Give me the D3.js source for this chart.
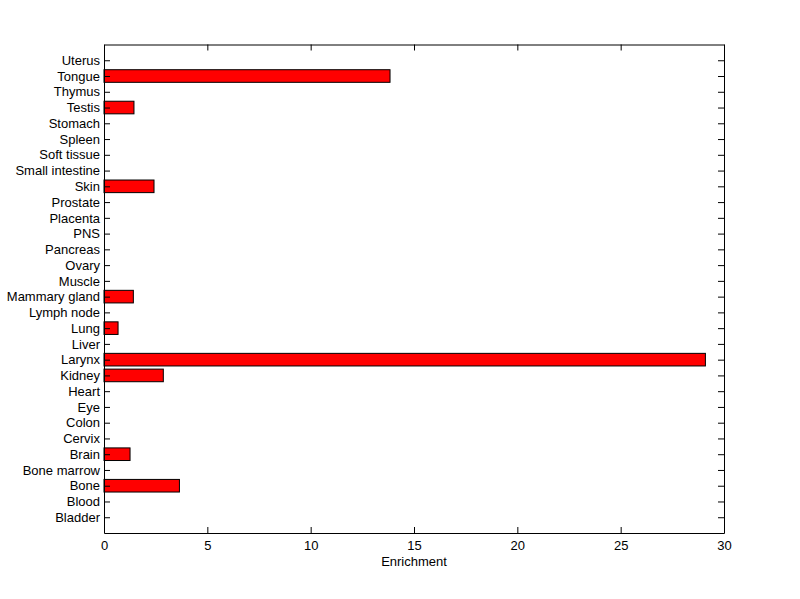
<!DOCTYPE html>
<html>
<head>
<meta charset="utf-8">
<script src="https://cdn.jsdelivr.net/npm/d3@7"></script>
<style>
  body { margin: 0; background: #fff; }
  text { font-family: "Liberation Sans", Arial, sans-serif; font-size: 13px; fill: #000; }
</style>
</head>
<body>
<div id="chart"></div>
<script>
// tissue names, bottom to top
const tissues = ["Bladder", "Blood", "Bone", "Bone marrow", "Brain", "Cervix", "Colon", "Eye",
  "Heart", "Kidney", "Larynx", "Liver", "Lung", "Lymph node", "Mammary gland", "Muscle",
  "Ovary", "Pancreas", "PNS", "Placenta", "Prostate", "Skin", "Small intestine",
  "Soft tissue", "Spleen", "Stomach", "Testis", "Thymus", "Tongue", "Uterus"];

const enrichment = [0, 0, 3.65, 0, 1.26, 0, 0, 0,
  0, 2.87, 29.1, 0, 0.68, 0, 1.42, 0,
  0, 0, 0, 0, 0, 2.42, 0,
  0, 0, 0, 1.45, 0, 13.84, 0];

const xTicks = [0, 5, 10, 15, 20, 25, 30];

const width = 800, height = 599;
const margin = { top: 44.5, right: 76, bottom: 66, left: 104 };
const plotW = width - margin.left - margin.right;
const plotH = height - margin.top - margin.bottom;

const svg = d3.select("#chart").append("svg")
    .attr("width", width)
    .attr("height", height);

const g = svg.append("g")
    .attr("transform", `translate(${margin.left}, ${margin.top})`);

const xScale = d3.scaleLinear().domain([0, 30]).range([0, plotW]);
// matlab style: categories at 1..n, limits [0, n+1]
const yScale = d3.scaleLinear().domain([0, tissues.length + 1]).range([plotH, 0]);
const barH = 0.8 * (yScale(0) - yScale(1));

const data = tissues.map((name, i) => ({ name, pos: i + 1, value: enrichment[i] }));

// Bars
g.append("g")
    .selectAll("rect")
    .data(data.filter(d => d.value > 0))
    .enter()
    .append("rect")
    .attr("x", xScale(0))
    .attr("y", d => yScale(d.pos) - barH / 2)
    .attr("width", d => xScale(d.value) - xScale(0))
    .attr("height", barH)
    .attr("fill", "#ff0000")
    .attr("stroke", "#000")
    .attr("stroke-width", 1);

// Axes (ticks pointing inward, on all four sides)
const tickLen = 6;

g.append("g")
    .attr("transform", `translate(0, ${plotH})`)
    .call(d3.axisBottom(xScale).tickValues(xTicks).tickSizeInner(-tickLen).tickSizeOuter(0).tickPadding(8));

g.append("g")
    .call(d3.axisTop(xScale).tickValues(xTicks).tickSizeInner(-tickLen).tickSizeOuter(0).tickFormat(""));

g.append("g")
    .call(d3.axisLeft(yScale).tickValues(data.map(d => d.pos))
        .tickFormat(p => tissues[p - 1]).tickSizeInner(-tickLen).tickSizeOuter(0).tickPadding(4));

g.append("g")
    .attr("transform", `translate(${plotW}, 0)`)
    .call(d3.axisRight(yScale).tickValues(data.map(d => d.pos))
        .tickSizeInner(-tickLen).tickSizeOuter(0).tickFormat(""));

g.selectAll(".domain").attr("stroke", "#000");
g.selectAll(".tick line").attr("stroke", "#000");
g.selectAll(".tick text")
    .style("font-family", "'Liberation Sans', Arial, sans-serif")
    .style("font-size", "13px")
    .attr("fill", "#000");

// Axis label
g.append("text")
    .attr("x", plotW / 2)
    .attr("y", plotH + 33)
    .attr("text-anchor", "middle")
    .text("Enrichment");
</script>
</body>
</html>
